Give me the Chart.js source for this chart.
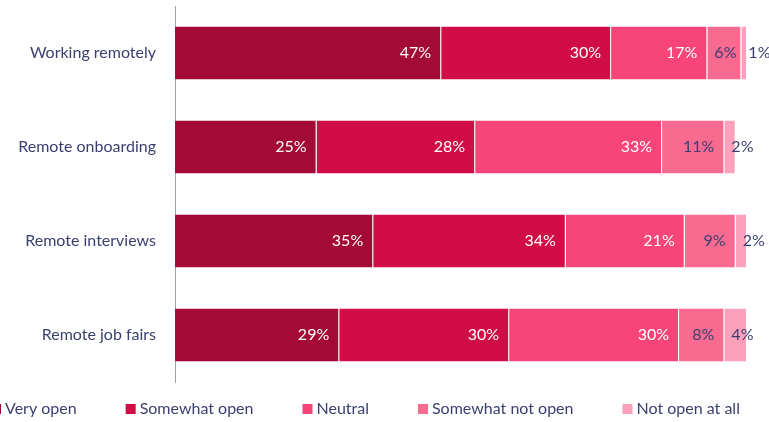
<!DOCTYPE html>
<html>
<head>
<meta charset="utf-8">
<script src="https://cdn.jsdelivr.net/npm/chart.js@4"></script>
<style>
html, body { margin: 0; padding: 0; background: #fff; }
#wrap { width: 769px; height: 422px; }
</style>
</head>
<body>
<div id="wrap"><canvas id="myChart" width="769" height="422"></canvas></div>
<script>
var categories = ["Working remotely", "Remote onboarding", "Remote interviews", "Remote job fairs"];
var seriesNames = ["Very open", "Somewhat open", "Neutral", "Somewhat not open", "Not open at all"];
var veryOpen = [47, 25, 35, 29];
var somewhatOpen = [30, 28, 34, 30];
var neutral = [17, 33, 21, 30];
var somewhatNotOpen = [6, 11, 9, 8];
var notOpenAtAll = [1, 2, 2, 4];

var barColors = ["#A30A35", "#D10D47", "#F7457A", "#F96A90", "#FBA1BB"];
var labelColors = ["#ffffff", "#ffffff", "#ffffff", "#3b3f70", "#3b3f70"];
var textColor = "#3b3f70";
var seriesValues = [veryOpen, somewhatOpen, neutral, somewhatNotOpen, notOpenAtAll];

// percent labels: right end of the segment, pushed right when the segment is too narrow
var barLabels = {
  id: "barLabels",
  afterDatasetsDraw: function(chart) {
    var ctx = chart.ctx;
    ctx.save();
    ctx.font = "16px Lato";
    ctx.textBaseline = "middle";
    ctx.textAlign = "left";
    chart.data.datasets.forEach(function(ds, i) {
      chart.getDatasetMeta(i).data.forEach(function(bar, j) {
        var text = ds.data[j] + "%";
        var w = ctx.measureText(text).width;
        var x = Math.max(bar.x - 10 - w, bar.base + 7);
        ctx.fillStyle = labelColors[i];
        ctx.fillText(text, x, bar.y);
      });
    });
    ctx.restore();
  }
};

// legend row along the bottom edge
var bottomLegend = {
  id: "bottomLegend",
  afterDraw: function(chart) {
    var ctx = chart.ctx;
    ctx.save();
    ctx.font = "16px Lato";
    ctx.textBaseline = "middle";
    ctx.textAlign = "left";
    var x = -9, y = 409;
    chart.data.datasets.forEach(function(ds) {
      ctx.fillStyle = ds.backgroundColor;
      ctx.fillRect(x, y - 5, 10, 10);
      ctx.fillStyle = textColor;
      ctx.fillText(ds.label, x + 14, y);
      x += 14 + ctx.measureText(ds.label).width + 49;
    });
    ctx.restore();
  }
};

var datasets = seriesNames.map(function(name, i) {
  return {
    label: name,
    data: seriesValues[i],
    backgroundColor: barColors[i],
    borderColor: "rgba(255,255,255,0.35)",
    borderWidth: 1,
    categoryPercentage: 0.58,
    barPercentage: 1
  };
});

new Chart("myChart", {
  type: "bar",
  data: {
    labels: categories,
    datasets: datasets
  },
  options: {
    indexAxis: "y",
    responsive: false,
    devicePixelRatio: 1,
    animation: false,
    layout: { padding: { top: 6, bottom: 40, right: 5, left: 0 } },
    plugins: {
      legend: { display: false },
      tooltip: { enabled: false }
    },
    scales: {
      x: {
        stacked: true,
        min: 0,
        max: 104,
        display: false
      },
      y: {
        stacked: true,
        grid: { display: false, drawTicks: false },
        border: { display: true, color: "#a0a0a0", width: 1 },
        ticks: {
          padding: 19,
          color: textColor,
          font: { family: "Lato", size: 16 }
        },
        afterFit: function(scale) {
          scale.width = 175;
          // tick padding would otherwise push the plot down
          scale.paddingTop = 0;
          scale.paddingBottom = 0;
        }
      }
    }
  },
  plugins: [barLabels, bottomLegend]
});
</script>
</body>
</html>
